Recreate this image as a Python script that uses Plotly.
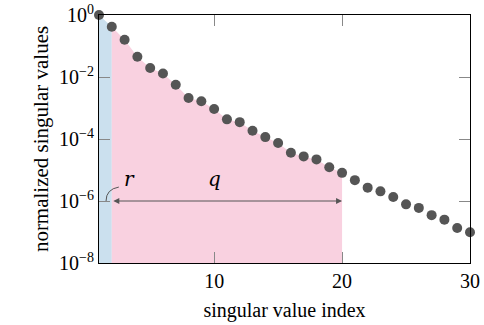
import math
import plotly.graph_objects as go

# Normalized singular values, indices 1..30
index = list(range(1, 31))
sigma = [1.0, 0.42, 0.16, 4.5e-2, 1.95e-2, 1.3e-2, 5.6e-3, 2.1e-3, 1.65e-3, 9.3e-4,
         4.3e-4, 3.5e-4, 1.85e-4, 1.15e-4, 7.4e-5, 3.6e-5, 2.75e-5, 2.2e-5, 1.23e-5, 8.1e-6,
         4.7e-6, 2.7e-6, 2.05e-6, 1.35e-6, 7.8e-7, 6.0e-7, 3.5e-7, 2.5e-7, 1.35e-7, 9.8e-8]

r_end = 2    # end of the r block
q_end = 20   # end of the q block
arrow_level = 1e-6
y_floor = 1e-8

x_ticks = [10, 20, 30]
y_ticks = [1, 1e-2, 1e-4, 1e-6, 1e-8]
y_tick_text = ["10<sup>0</sup>", "10<sup>\u22122</sup>", "10<sup>\u22124</sup>",
               "10<sup>\u22126</sup>", "10<sup>\u22128</sup>"]

FONT = "Liberation Serif, Times New Roman, DejaVu Serif, serif"
MARK = "#555555"
BLUE = "#cbe0ee"
PINK = "#f9d1e0"
FS = 20


def region(i0, i1):
    xs = index[i0 - 1:i1]
    ys = sigma[i0 - 1:i1]
    return xs + [xs[-1], xs[0]], ys + [y_floor, y_floor]


fig = go.Figure()

bx, by = region(1, r_end)
fig.add_trace(go.Scatter(x=bx, y=by, fill="toself", fillcolor=BLUE, mode="none",
                         hoverinfo="skip", showlegend=False))
qx, qy = region(r_end, q_end)
fig.add_trace(go.Scatter(x=qx, y=qy, fill="toself", fillcolor=PINK, mode="none",
                         hoverinfo="skip", showlegend=False))

fig.add_trace(go.Scatter(x=index, y=sigma, mode="markers",
                         marker=dict(color=MARK, size=10, line=dict(width=0)),
                         cliponaxis=False, showlegend=False))

# double-headed arrow spanning the q block
lvl = math.log10(arrow_level)
fig.add_annotation(x=q_end, y=lvl, ax=r_end, ay=lvl, xref="x", yref="y",
                   axref="x", ayref="y", text="", showarrow=True,
                   arrowhead=2, startarrowhead=2, arrowside="end+start",
                   arrowsize=1.2, arrowwidth=1, arrowcolor=MARK)

fig.add_annotation(x=3.35, y=-5.28, xref="x", yref="y", text="\U0001D45F",
                   showarrow=False, font=dict(family=FONT, size=FS, color="black"))
fig.add_annotation(x=10, y=-5.3, xref="x", yref="y", text="\U0001D45E",
                   showarrow=False, font=dict(family=FONT, size=FS, color="black"))

# small curved leader from the r block to its label
x_lo, x_hi = 1, 30
d_lo, d_hi = -8, 0


def px(x):
    return (x - x_lo) / (x_hi - x_lo)


def py(ld):
    return (ld - d_lo) / (d_hi - d_lo)


sx, sy = px(1.55), py(lvl)
ex, ey = px(2.55), py(-5.55)
cx, cy = sx, py(-5.62)
fig.add_shape(type="path", xref="paper", yref="paper",
              path=f"M {sx} {sy} Q {cx} {cy} {ex} {ey}",
              line=dict(color=MARK, width=1))

axis_common = dict(showline=True, linecolor="black", linewidth=1, mirror="allticks",
                   ticks="inside", ticklen=11, tickcolor="#888888", tickwidth=1,
                   showgrid=False, zeroline=False, automargin=False,
                   tickfont=dict(family=FONT, size=FS, color="black"))

fig.update_xaxes(range=[x_lo, x_hi], tickvals=x_ticks, ticktext=[str(t) for t in x_ticks],
                 title=dict(text="singular value index", standoff=11,
                            font=dict(family=FONT, size=FS, color="black")),
                 **axis_common)
fig.update_yaxes(type="log", range=[d_lo, d_hi], tickvals=y_ticks, ticktext=y_tick_text,
                 title=dict(text="normalized singular values", standoff=4,
                            font=dict(family=FONT, size=21, color="black")),
                 **axis_common)

fig.update_layout(width=484, height=325, margin=dict(l=99, r=14, t=15, b=62),
                  plot_bgcolor="white", paper_bgcolor="white")

fig.write_html("out.html")
